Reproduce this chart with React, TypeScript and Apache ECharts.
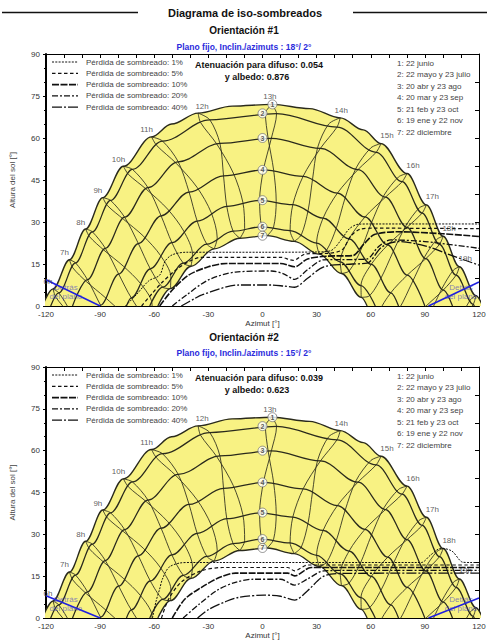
import React, { useEffect, useRef } from "react";
import * as echarts from "echarts";

type Pt = [number, number];
// [legal hour, azimuth °, sun height °]
type HourPos = [number, number, number];

// ---- Sun positions, legal time, per date ----
const jun22: HourPos[] = [
  [6, -116.1, 6.1], [7, -107.0, 16.5], [8, -98.0, 27.5], [9, -88.5, 38.7], [10, -77.1, 49.9],
  [11, -61.5, 60.4], [11.5, -50.4, 65.0], [12, -35.7, 68.9], [12.5, -16.8, 71.4], [13, 5.2, 72.0],
  [13.5, 26.1, 70.5], [14, 43.1, 67.2], [14.5, 55.9, 62.9], [15, 65.7, 58.0], [16, 80.1, 47.3],
  [17, 90.8, 36.1], [18, 100.1, 24.9], [19, 109.1, 14.0], [20, 118.3, 3.7],
];
const may22: HourPos[] = [
  [6, -112.9, 4.7], [7, -103.6, 15.4], [8, -94.3, 26.5], [9, -84.2, 37.7], [10, -72.1, 48.8],
  [11, -55.4, 58.9], [12, -29.2, 66.5], [13, 7.8, 68.7], [14, 41.3, 63.9], [15, 63.0, 54.9],
  [16, 77.4, 44.4], [17, 88.5, 33.2], [18, 98.1, 22.0], [19, 107.3, 11.0], [20, 116.8, 0.6],
];
const jul23: HourPos[] = [
  [6, -114.5, 3.1], [7, -105.1, 13.6], [8, -95.8, 24.7], [9, -86.0, 35.9], [10, -74.3, 47.0],
  [11, -58.6, 57.3], [12, -34.3, 65.5], [13, 1.6, 68.8], [14, 36.7, 65.0], [15, 60.1, 56.5],
  [16, 75.4, 46.1], [17, 86.8, 35.0], [18, 96.6, 23.8], [19, 105.8, 12.8], [20, 115.2, 2.2],
];
const apr20: HourPos[] = [
  [6, -106.8, -1.6], [7, -97.0, 9.4], [8, -87.1, 20.6], [9, -76.4, 31.7], [10, -63.5, 42.3],
  [11, -46.7, 51.5], [12, -23.6, 58.1], [13, 4.9, 59.9], [14, 32.1, 56.3], [15, 52.9, 48.7],
  [16, 68.2, 38.9], [17, 80.1, 28.1], [18, 90.5, 16.9], [19, 100.2, 5.7], [20, 110.2, -5.2],
];
const aug23: HourPos[] = [
  [6, -107.4, -2.3], [7, -97.6, 8.7], [8, -87.8, 19.9], [9, -77.1, 31.0], [10, -64.4, 41.7],
  [11, -47.9, 51.0], [12, -25.3, 57.8], [13, 3.1, 60.0], [14, 30.6, 56.7], [15, 51.8, 49.2],
  [16, 67.3, 39.5], [17, 79.5, 28.7], [18, 89.9, 17.6], [19, 99.6, 6.4], [20, 109.5, -4.5],
];
const mar20: HourPos[] = [
  [6, -99.8, -10.9], [7, -89.8, 0.3], [8, -79.7, 11.4], [9, -68.8, 22.3], [10, -56.2, 32.2],
  [11, -40.7, 40.7], [12, -21.6, 46.5], [13, 0.5, 48.6], [14, 22.5, 46.3], [15, 41.5, 40.3],
  [16, 56.8, 31.8], [17, 69.4, 21.8], [18, 80.2, 11.0], [19, 90.2, -0.3],
];
const sep23: HourPos[] = [
  [6, -97.3, -8.2], [7, -87.3, 3.1], [8, -77.1, 14.2], [9, -65.9, 24.9], [10, -52.6, 34.6],
  [11, -36.3, 42.4], [12, -16.2, 47.5], [13, 6.2, 48.4], [14, 27.7, 45.1], [15, 45.7, 38.4],
  [16, 60.2, 29.4], [17, 72.2, 19.1], [18, 82.8, 8.2], [19, 92.7, -3.1],
];
const feb21: HourPos[] = [
  [7, -82.6, -8.1], [8, -72.7, 2.9], [9, -62.2, 13.3], [10, -50.2, 22.6], [11, -36.2, 30.3],
  [12, -19.8, 35.6], [13, -1.6, 37.7], [14, 16.8, 36.2], [15, 33.6, 31.4], [16, 48.0, 24.0],
  [17, 60.3, 14.9], [18, 71.1, 4.7], [19, 81.0, -6.3],
];
const oct23: HourPos[] = [
  [7, -77.8, -2.7], [8, -67.7, 8.1], [9, -56.5, 18.0], [10, -43.6, 26.7], [11, -28.4, 33.3],
  [12, -10.9, 37.1], [13, 7.6, 37.4], [14, 25.3, 34.2], [15, 41.0, 28.0], [16, 54.3, 19.7],
  [17, 65.7, 10.0], [18, 76.0, -0.7],
];
const jan19: HourPos[] = [
  [8, -65.4, -3.0], [9, -55.3, 6.7], [10, -43.9, 15.3], [11, -30.9, 22.1], [12, -16.3, 26.7],
  [13, -0.5, 28.3], [14, 15.3, 26.9], [15, 30.0, 22.5], [16, 43.1, 15.8], [17, 54.6, 7.3],
  [18, 64.8, -2.4],
];
const nov22: HourPos[] = [
  [7, -71.0, -9.2], [8, -61.3, 1.1], [9, -50.8, 10.4], [10, -38.8, 18.4], [11, -25.1, 24.3],
  [12, -9.9, 27.7], [13, 6.1, 28.1], [14, 21.5, 25.4], [15, 35.6, 20.0], [16, 48.0, 12.5],
  [17, 58.9, 3.5], [18, 68.7, -6.6],
];
const dec22: HourPos[] = [
  [8, -61.1, -3.2], [9, -51.0, 6.2], [10, -39.6, 14.2], [11, -26.8, 20.4], [12, -12.5, 24.2],
  [13, 2.6, 25.1], [14, 17.6, 23.1], [15, 31.4, 18.5], [16, 43.8, 11.6], [17, 54.7, 3.1],
  [18, 64.4, -6.6],
];

// Sunrise / sunset azimuth (±) for paths 1..7
const horizonAz = [122, 117.4, 105.3, 90, 75.4, 62.5, 58];
const hours = [6, 7, 8, 9, 10, 11, 12, 13, 14, 15, 16, 17, 18, 19, 20];
const labelledHours = [6, 7, 8, 9, 10, 11, 12, 13, 14, 15, 16, 17, 18, 19];

// Numbered date markers on the paths
const dateMarks: Pt[] = [[5.5, 72.0], [0, 68.8], [0, 60.0], [0, 48.6], [0, 37.8], [0, 28.3], [0, 25.1]];

// ---- Iso-shading curves, orientation #1 (18°/2°) ----
const o1Loss1: Pt[] = [[-76, 0], [-70, 4], [-63, 9], [-57, 11], [-54, 16], [-50, 18.3], [-42, 19.2], [0, 19.2], [30, 19.3], [38, 19.8], [44, 24], [48, 27.5], [53, 29.2], [60, 29.3], [120, 29.3]];
const o1Loss5: Pt[] = [[-67, 0], [-61, 4.6], [-56, 8.2], [-48, 12.9], [-41, 15.8], [-34, 17.4], [10, 17.4], [17, 16.3], [24, 18.6], [36, 18.8], [44, 20], [49, 25], [54, 27.4], [62, 27.8], [120, 27.6]];
const o1Loss10: Pt[] = [[-57, 0], [-50, 5.7], [-41, 11], [-30, 14], [-20, 15.2], [10, 15.2], [17.8, 14], [25, 16.8], [36, 17.8], [50, 18], [56, 22], [62, 25.5], [75, 26.5], [100, 25.8], [120, 24.8]];
const o1Loss20: Pt[] = [[-50, 0], [-42, 4], [-30, 9.3], [-15, 12.1], [5, 12.5], [12, 11.4], [17.8, 9.5], [25, 13], [34, 16.5], [50, 16.6], [58, 16.8], [64, 21], [71, 23.6], [90, 23], [120, 20.6]];
const o1Loss40: Pt[] = [[-45, 0], [-38, 2.5], [-33.6, 4], [-13, 7.5], [5, 7.5], [12, 7.1], [17.8, 6.7], [25, 9.9], [34, 14], [50, 15], [58, 15.3], [66, 21], [75, 23], [90, 21.5], [105, 18], [120, 14.6]];

// ---- Iso-shading curves, orientation #2 (15°/2°) ----
const o2Loss1: Pt[] = [[-61, 0], [-59, 6], [-57, 10.4], [-55.5, 13.9], [-52, 18.1], [-46, 19.7], [-40, 19.9], [88, 19.9], [93, 22.5], [99, 25], [105, 24], [111, 20], [115, 19.9], [120, 19.9]];
const o2Loss5: Pt[] = [[-56, 0], [-52, 6.8], [-45, 12.9], [-34, 16.9], [-22, 18.1], [14, 18.1], [17.8, 16.9], [25, 19.0], [120, 19.0]];
const o2Loss10: Pt[] = [[-50, 0], [-43, 6.8], [-34, 10.9], [-24, 14.5], [-15, 16.1], [14, 16.1], [17.8, 15.1], [27, 18.1], [120, 18.1]];
const o2Loss20: Pt[] = [[-44, 0], [-35, 5], [-25, 10], [-15, 12.8], [-5, 13.9], [10, 13.9], [17.8, 11.8], [25, 14], [34, 16.9], [50, 17.1], [120, 17.1]];
const o2Loss40: Pt[] = [[-36, 0], [-30, 3], [-20, 6], [-13, 7.4], [1, 8.2], [10, 7.8], [17.8, 6.4], [25, 9.8], [34, 15], [45, 16], [120, 16.1]];

// "Behind the plane" limits
const o1BehindLeft: Pt[] = [[-120, 9.4], [-90, 0]];
const o1BehindRight: Pt[] = [[92, 0], [120, 8.6]];
const o2BehindLeft: Pt[] = [[-120, 8.0], [-90, 0]];
const o2BehindRight: Pt[] = [[92, 0], [120, 7.2]];
const behindTextPos: Pt[] = [[-109, 5], [110, 5]];

// ---- Texts ----
const lossNames = ["1%", "5%", "10%", "20%", "40%"];
const dateNames = [
  "1: 22 junio", "2: 22 mayo y 23 julio", "3: 20 abr y 23 ago", "4: 20 mar y 23 sep",
  "5: 21 feb y 23 oct", "6: 19 ene y 22 nov", "7: 22 diciembre",
];
const orientationTitles = ["Orientación #1", "Orientación #2"];
const planeTitles = ["Plano fijo, Inclin./azimuts : 18°/ 2°", "Plano fijo, Inclin./azimuts : 15°/ 2°"];
const diffuseLoss = ["0.054", "0.039"];
const albedoLoss = ["0.876", "0.623"];

const FONT = "'Liberation Sans', Arial, Helvetica, sans-serif";
const YELLOW = "#f8f283";
const INK = "#2a2a1c";
const BLUE = "#1f1fe0";

const plotTops = [54, 367];
const plotLeft = 43;
const plotWidth = 436;
const plotHeight = 252;

const lossStyles = [
  { dash: [2, 1.3], width: 1 },
  { dash: [3.5, 2.5], width: 1.2 },
  { dash: [7, 1.5], width: 1.6 },
  { dash: [6, 2, 2, 2], width: 1.3 },
  { dash: [10, 2, 2, 2], width: 1.3 },
];

function posAt(list: HourPos[], hour: number): Pt | null {
  const p = list.find((e) => e[0] === hour);
  return p ? [p[1], p[2]] : null;
}

function sunPath(list: HourPos[], az: number): Pt[] {
  const pts = list.filter((p) => p[2] >= 0).map((p) => [p[1], p[2]] as Pt);
  return [[-az, 0], ...pts, [az, 0]];
}

const pathDates = [jun22, may22, apr20, mar20, feb21, jan19, dec22];
const sunPaths = pathDates.map((d, i) => sunPath(d, horizonAz[i]));
const firstHalf = [dec22, jan19, feb21, mar20, apr20, may22, jun22];
const secondHalf = [jun22, jul23, aug23, sep23, oct23, nov22, dec22];

function branch(dates: HourPos[][], hour: number): Pt[] {
  return dates.map((d) => posAt(d, hour)).filter((p): p is Pt => p !== null);
}

function plotSeries(g: number, iso: Pt[][], behind: Pt[][]) {
  const axes = { xAxisIndex: g * 2, yAxisIndex: g * 2 };
  const out: any[] = [];
  // yellow band under the June path
  out.push({
    type: "line", ...axes, data: sunPaths[0], smooth: 0.35, smoothMonotone: "x", symbol: "none",
    lineStyle: { color: INK, width: 1.4 }, areaStyle: { color: YELLOW, opacity: 1 }, z: 1, silent: true,
  });
  // hour lines (two branches of each analemma)
  hours.forEach((h) => {
    [branch(firstHalf, h), branch(secondHalf, h)].forEach((pts) => {
      if (pts.length < 2) return;
      out.push({
        type: "line", ...axes, data: pts, smooth: 0.3, symbol: "none",
        lineStyle: { color: INK, width: 0.85 }, z: 2, silent: true,
      });
    });
  });
  // intermediate sun paths
  for (let i = 1; i < 6; i++) {
    out.push({
      type: "line", ...axes, data: sunPaths[i], smooth: 0.35, smoothMonotone: "x", symbol: "none",
      lineStyle: { color: INK, width: 1.25 }, z: 2, silent: true,
    });
  }
  // December path, white beneath
  out.push({
    type: "line", ...axes, data: sunPaths[6], smooth: 0.35, smoothMonotone: "x", symbol: "none",
    lineStyle: { color: INK, width: 1.3 }, areaStyle: { color: "#ffffff", opacity: 1 }, z: 3, silent: true,
  });
  // iso-shading curves
  iso.forEach((pts, i) => {
    out.push({
      type: "line", ...axes, data: pts, smooth: 0.3, symbol: "none",
      lineStyle: { color: "#111", width: lossStyles[i].width, type: lossStyles[i].dash }, z: 5, silent: true,
    });
  });
  // behind-the-plane limits
  behind.forEach((pts) => {
    out.push({
      type: "line", ...axes, data: pts, symbol: "none",
      lineStyle: { color: BLUE, width: 1.6 }, z: 5, silent: true,
    });
  });
  out.push({
    type: "scatter", ...axes, symbolSize: 1, itemStyle: { color: "rgba(0,0,0,0)" }, z: 6, silent: true,
    data: behindTextPos.map((p) => ({ value: p, name: "Detrás\ndel plano" })),
    label: {
      show: true, position: "inside", formatter: "{b}", fontSize: 8, lineHeight: 9,
      color: "rgba(60,60,200,0.8)", fontFamily: FONT,
    },
  });
  // hour labels next to the June path
  out.push({
    type: "scatter", ...axes, symbolSize: 1, itemStyle: { color: "rgba(0,0,0,0)" }, z: 6, silent: true,
    data: labelledHours.map((h) => {
      const p = posAt(jun22, h) as Pt;
      const off = h <= 11 ? [-5, -7] : h === 12 ? [4, -7] : h === 13 ? [-2, -8] : h === 14 ? [1, -7] : [6, -8];
      return { value: p, name: `${h}h`, label: { offset: off } };
    }),
    label: { show: true, position: "inside", formatter: "{b}", fontSize: 8, color: "#333", fontFamily: FONT },
  });
  // numbered date markers
  out.push({
    type: "scatter", ...axes, symbol: "circle", symbolSize: 9, z: 7, silent: true,
    itemStyle: { color: "#ffffff", borderColor: "#777", borderWidth: 1 },
    data: dateMarks.map((p, i) => ({ value: p, name: String(i + 1) })),
    label: {
      show: true, position: "inside", formatter: "{b}", fontSize: 7, fontWeight: "bold",
      color: "#333", fontFamily: FONT,
    },
  });
  return out;
}

function axesFor(g: number) {
  const black = { color: "#000" };
  const xBottom = {
    type: "value", gridIndex: g, position: "bottom", min: -120, max: 120, interval: 30,
    name: "Azimut [°]", nameLocation: "middle", nameGap: 13,
    nameTextStyle: { fontSize: 8, color: "#333", fontFamily: FONT },
    axisLine: { show: true, onZero: false, lineStyle: { ...black, width: 2 } },
    axisTick: { show: true, inside: true, length: 4, lineStyle: { ...black, width: 1 } },
    minorTick: { show: true, splitNumber: 3, length: 3, lineStyle: { ...black, width: 1 } },
    axisLabel: { fontSize: 8, color: "#333", margin: 4, fontFamily: FONT },
    splitLine: { show: false },
  };
  const xTop = {
    type: "value", gridIndex: g, position: "top", min: -120, max: 120, interval: 10,
    axisLine: { show: true, onZero: false, lineStyle: { ...black, width: 1 } },
    axisTick: { show: true, inside: true, length: 4, lineStyle: { ...black, width: 1 } },
    axisLabel: { show: false }, splitLine: { show: false },
  };
  const yLeft = {
    type: "value", gridIndex: g, position: "left", min: 0, max: 90, interval: 15,
    name: "Altura del sol [°]", nameLocation: "middle", nameGap: 30,
    nameTextStyle: { fontSize: 8, color: "#444", fontFamily: FONT },
    axisLine: { show: true, onZero: false, lineStyle: { ...black, width: 2 } },
    axisTick: { show: true, inside: false, length: 3, lineStyle: { ...black, width: 1 } },
    minorTick: { show: true, splitNumber: 3, length: 2, lineStyle: { ...black, width: 1 } },
    axisLabel: { fontSize: 8, color: "#333", margin: 6, fontFamily: FONT },
    splitLine: { show: false },
  };
  const yRight = {
    type: "value", gridIndex: g, position: "right", min: 0, max: 90, interval: 10,
    axisLine: { show: true, onZero: false, lineStyle: { ...black, width: 1 } },
    axisTick: { show: true, inside: true, length: 4, lineStyle: { ...black, width: 1 } },
    axisLabel: { show: false }, splitLine: { show: false },
  };
  return { x: [xBottom, xTop], y: [yLeft, yRight] };
}

function text(t: string, x: number, y: number, size: number, opts: any = {}) {
  const align = opts.align || "left";
  return {
    type: "text", z: 20, silent: true,
    style: {
      text: t, x, y, fill: opts.fill || "#333",
      font: `${opts.bold ? "bold " : ""}${size}px ${FONT}`,
      align, textAlign: align, verticalAlign: "middle", textVerticalAlign: "middle",
    },
  };
}

function plotGraphics(g: number) {
  const dy = plotTops[g] - plotTops[0];
  const els: any[] = [];
  els.push(text(orientationTitles[g], 244, 30 + (g ? 307 : 0), 10, { bold: true, fill: "#111", align: "center" }));
  els.push(text(planeTitles[g], 244, 47 + (g ? 306 : 0), 8.5, { bold: true, fill: "#2b2bdc", align: "center" }));
  lossNames.forEach((n, i) => {
    const y = 62 + i * 11.3 + dy;
    els.push({
      type: "line", z: 20, silent: true,
      shape: { x1: 52, y1: y, x2: 78, y2: y },
      style: { stroke: "#111", lineWidth: lossStyles[i].width, lineDash: lossStyles[i].dash },
    });
    els.push(text(`Pérdida de sombreado: ${n}`, 86, y, 8, { fill: "#444" }));
  });
  els.push(text(`Atenuación para difuso: ${diffuseLoss[g]}`, 259, 65 + dy, 9, { bold: true, fill: "#111", align: "center" }));
  els.push(text(`y albedo: ${albedoLoss[g]}`, 257, 76.5 + dy, 9, { bold: true, fill: "#111", align: "center" }));
  dateNames.forEach((n, i) => {
    els.push(text(n, 397, 63 + i * 11.5 + dy, 8, { fill: "#444" }));
  });
  return els;
}

function buildOption() {
  const a0 = axesFor(0);
  const a1 = axesFor(1);
  const graphics: any[] = [
    text("Diagrama de iso-sombreados", 245, 12.5, 11, { bold: true, fill: "#111", align: "center" }),
    { type: "line", silent: true, shape: { x1: 2, y1: 12.5, x2: 138, y2: 12.5 }, style: { stroke: "#111", lineWidth: 1.3 } },
    { type: "line", silent: true, shape: { x1: 353, y1: 12.5, x2: 487, y2: 12.5 }, style: { stroke: "#111", lineWidth: 1.3 } },
    ...plotGraphics(0),
    ...plotGraphics(1),
  ];
  return {
    animation: false,
    backgroundColor: "#ffffff",
    textStyle: { fontFamily: FONT },
    grid: plotTops.map((top) => ({ left: plotLeft, top, width: plotWidth, height: plotHeight })),
    xAxis: [...a0.x, ...a1.x],
    yAxis: [...a0.y, ...a1.y],
    series: [
      ...plotSeries(0, [o1Loss1, o1Loss5, o1Loss10, o1Loss20, o1Loss40], [o1BehindLeft, o1BehindRight]),
      ...plotSeries(1, [o2Loss1, o2Loss5, o2Loss10, o2Loss20, o2Loss40], [o2BehindLeft, o2BehindRight]),
    ],
    graphic: graphics,
  };
}

export default function App() {
  const ref = useRef<HTMLDivElement>(null);
  useEffect(() => {
    if (!ref.current) return;
    const chart = echarts.init(ref.current, undefined, { renderer: "svg" });
    chart.setOption(buildOption() as any);
    return () => chart.dispose();
  }, []);
  return (
    <div
      ref={ref}
      style={{ position: "absolute", left: 0, top: 0, width: 489, height: 640, background: "#fff" }}
    />
  );
}
